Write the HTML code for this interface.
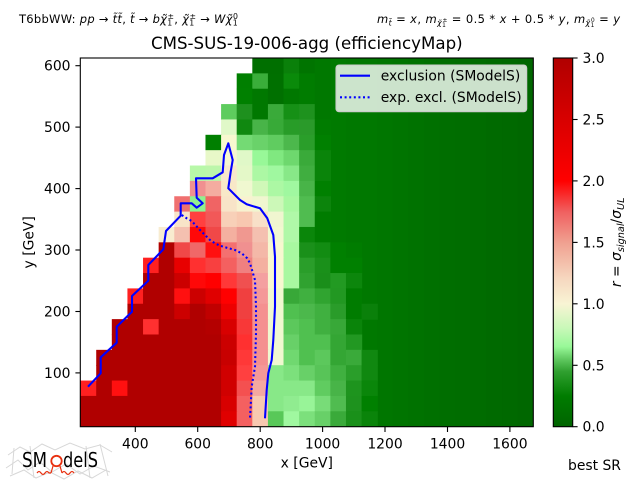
<!DOCTYPE html>
<html><head><meta charset="utf-8">
<style>
html,body{margin:0;padding:0;background:#fff;}
#c{position:relative;width:640px;height:480px;overflow:hidden;background:#fff;}
svg{position:absolute;left:0;top:0;}
text{font-family:"DejaVu Sans","Liberation Sans",sans-serif;fill:#000;}
</style></head>
<body><div id="c">
<svg width="640" height="480" viewBox="0 0 640 480" xmlns="http://www.w3.org/2000/svg">
<defs>
<clipPath id="pc"><rect x="80.3" y="58" width="453" height="368.7"/></clipPath>
<linearGradient id="cb" x1="0" y1="1" x2="0" y2="0">
<stop offset="0" stop-color="#006400"/>
<stop offset="0.083" stop-color="#007c00"/>
<stop offset="0.15" stop-color="#30a030"/>
<stop offset="0.183" stop-color="#60c860"/>
<stop offset="0.217" stop-color="#98f898"/>
<stop offset="0.267" stop-color="#c8f8b8"/>
<stop offset="0.333" stop-color="#f8f4d4"/>
<stop offset="0.40" stop-color="#f6d8c0"/>
<stop offset="0.50" stop-color="#f0a090"/>
<stop offset="0.583" stop-color="#f06060"/>
<stop offset="0.667" stop-color="#ff0000"/>
<stop offset="0.833" stop-color="#d80000"/>
<stop offset="1" stop-color="#b00000"/>
</linearGradient>
</defs>

<!-- header -->
<text x="19" y="23" font-size="11.5" textLength="219" lengthAdjust="spacing">T6bbWW: <tspan font-style="italic">pp</tspan> → <tspan font-style="italic">t̃t̃</tspan>, <tspan font-style="italic">t̃</tspan> → <tspan font-style="italic">bχ̃</tspan><tspan font-size="7.8" dy="2.5">1</tspan><tspan font-size="7.8" dx="-5" dy="-6.5">±</tspan><tspan dy="4">, </tspan><tspan font-style="italic">χ̃</tspan><tspan font-size="7.8" dy="2.5">1</tspan><tspan font-size="7.8" dx="-5" dy="-6.5">±</tspan><tspan dy="4"> → </tspan><tspan font-style="italic">Wχ̃</tspan><tspan font-size="7.8" dy="2.5">1</tspan><tspan font-size="7.8" dx="-5" dy="-6.5">0</tspan></text>

<text x="377" y="23" font-size="11.5" textLength="243" lengthAdjust="spacing"><tspan font-style="italic">m</tspan><tspan font-size="7.8" font-style="italic" dy="2.5">t̃</tspan><tspan dy="-2.5"> = </tspan><tspan font-style="italic">x</tspan>, <tspan font-style="italic">m</tspan><tspan font-size="7.8" font-style="italic" dy="2.5">χ̃</tspan><tspan font-size="5.8" dy="1.5">1</tspan><tspan font-size="5.8" dx="-3.7" dy="-5">±</tspan><tspan dy="1"> = 0.5 * </tspan><tspan font-style="italic">x</tspan> + 0.5 * <tspan font-style="italic">y</tspan>, <tspan font-style="italic">m</tspan><tspan font-size="7.8" font-style="italic" dy="2.5">χ̃</tspan><tspan font-size="5.8" dy="1.5">1</tspan><tspan font-size="5.8" dx="-3.7" dy="-5">0</tspan><tspan dy="1"> = </tspan><tspan font-style="italic">y</tspan></text>

<text x="306.8" y="49" font-size="16.67" text-anchor="middle">CMS-SUS-19-006-agg (efficiencyMap)</text>

<!-- heatmap -->
<g clip-path="url(#pc)">
<g transform="translate(80.6,58) scale(15.61,15.36)">
<rect x="16" y="0" width="1.04" height="24" fill="#007a00"/>
<rect x="17" y="0" width="1.04" height="24" fill="#007800"/>
<rect x="18" y="0" width="1.04" height="24" fill="#007800"/>
<rect x="19" y="0" width="1.04" height="24" fill="#007600"/>
<rect x="20" y="0" width="1.04" height="24" fill="#007400"/>
<rect x="21" y="0" width="1.04" height="24" fill="#007200"/>
<rect x="22" y="0" width="1.04" height="24" fill="#007000"/>
<rect x="23" y="0" width="1.04" height="24" fill="#006e00"/>
<rect x="24" y="0" width="1.04" height="24" fill="#006d00"/>
<rect x="25" y="0" width="1.04" height="24" fill="#006c00"/>
<rect x="26" y="0" width="1.04" height="24" fill="#006a00"/>
<rect x="27" y="0" width="1.04" height="24" fill="#006900"/>
<rect x="28" y="0" width="1.2" height="24" fill="#006700"/>
<!-- row 0 -->
<rect x="11" y="0" width="2.04" height="1.04" fill="#006f00"/>
<rect x="13" y="0" width="1.04" height="1.04" fill="#0a800a"/>
<rect x="14" y="0" width="1.04" height="1.04" fill="#007400"/>
<rect x="15" y="0" width="1.04" height="1.04" fill="#007800"/>
<!-- row 1 -->
<rect x="10" y="1" width="1.04" height="1.04" fill="#007f00"/>
<rect x="11" y="1" width="1.04" height="1.04" fill="#3aae3a"/>
<rect x="12" y="1" width="1.04" height="1.04" fill="#007000"/>
<rect x="13" y="1" width="1.04" height="1.04" fill="#0a8a0a"/>
<rect x="14" y="1" width="1.04" height="1.04" fill="#007c00"/>
<rect x="15" y="1" width="1.04" height="1.04" fill="#007800"/>
<!-- row 2 -->
<rect x="10" y="2" width="1.04" height="1.04" fill="#008000"/>
<rect x="11" y="2" width="1.04" height="1.04" fill="#007800"/>
<rect x="12" y="2" width="1.04" height="1.04" fill="#007000"/>
<rect x="13" y="2" width="1.04" height="1.04" fill="#007800"/>
<rect x="14" y="2" width="1.04" height="1.04" fill="#007c00"/>
<rect x="15" y="2" width="1.04" height="1.04" fill="#007800"/>
<!-- row 3 -->
<rect x="9" y="3" width="1.04" height="1.04" fill="#5ecc5e"/>
<rect x="10" y="3" width="1.04" height="1.04" fill="#1e901e"/>
<rect x="11" y="3" width="1.04" height="1.04" fill="#007800"/>
<rect x="12" y="3" width="1.04" height="1.04" fill="#3aaa3a"/>
<rect x="13" y="3" width="1.04" height="1.04" fill="#169016"/>
<rect x="14" y="3" width="1.04" height="1.04" fill="#1e921e"/>
<rect x="15" y="3" width="1.04" height="1.04" fill="#007800"/>
<!-- row 4 -->
<rect x="9" y="4" width="1.04" height="1.04" fill="#e0f8c8"/>
<rect x="10" y="4" width="1.04" height="1.04" fill="#108810"/>
<rect x="11" y="4" width="1.04" height="1.04" fill="#48b448"/>
<rect x="12" y="4" width="1.04" height="1.04" fill="#38aa38"/>
<rect x="13" y="4" width="1.04" height="1.04" fill="#289c28"/>
<rect x="14" y="4" width="1.04" height="1.04" fill="#2a9a2a"/>
<rect x="15" y="4" width="1.04" height="1.04" fill="#007c00"/>
<!-- row 5 -->
<rect x="8" y="5" width="1.04" height="1.04" fill="#007f00"/>
<rect x="9" y="5" width="1.04" height="1.04" fill="#f8f8d0"/>
<rect x="10" y="5" width="1.04" height="1.04" fill="#74da74"/>
<rect x="11" y="5" width="1.04" height="1.04" fill="#6ad26a"/>
<rect x="12" y="5" width="1.04" height="1.04" fill="#60cc60"/>
<rect x="13" y="5" width="1.04" height="1.04" fill="#4cb84c"/>
<rect x="14" y="5" width="1.04" height="1.04" fill="#2a9e2a"/>
<rect x="15" y="5" width="1.04" height="1.04" fill="#008000"/>
<!-- row 6 -->
<rect x="8" y="6" width="1.04" height="1.04" fill="#e8f8c8"/>
<rect x="9" y="6" width="1.04" height="1.04" fill="#f6f6d0"/>
<rect x="10" y="6" width="1.04" height="1.04" fill="#e0f8c8"/>
<rect x="11" y="6" width="1.04" height="1.04" fill="#98f898"/>
<rect x="12" y="6" width="1.04" height="1.04" fill="#80e880"/>
<rect x="13" y="6" width="1.04" height="1.04" fill="#6ed86e"/>
<rect x="14" y="6" width="1.04" height="1.04" fill="#3aaa3a"/>
<rect x="15" y="6" width="1.04" height="1.04" fill="#0a840a"/>
<!-- row 7 -->
<rect x="7" y="7" width="1.04" height="1.04" fill="#b8f8a8"/>
<rect x="8" y="7" width="1.04" height="1.04" fill="#bcf6aa"/>
<rect x="9" y="7" width="1.04" height="1.04" fill="#f8e8cc"/>
<rect x="10" y="7" width="1.04" height="1.04" fill="#e4f8c8"/>
<rect x="11" y="7" width="1.04" height="1.04" fill="#acf8a4"/>
<rect x="12" y="7" width="1.04" height="1.04" fill="#a0f8a0"/>
<rect x="13" y="7" width="1.04" height="1.04" fill="#88e888"/>
<rect x="14" y="7" width="1.04" height="1.04" fill="#40ae40"/>
<rect x="15" y="7" width="1.04" height="1.04" fill="#0a840a"/>
<!-- row 8 -->
<rect x="7" y="8" width="1.04" height="1.04" fill="#f09090"/>
<rect x="8" y="8" width="1.04" height="1.04" fill="#f4aca0"/>
<rect x="9" y="8" width="1.04" height="1.04" fill="#f8e8c8"/>
<rect x="10" y="8" width="1.04" height="1.04" fill="#f0f8d0"/>
<rect x="11" y="8" width="1.04" height="1.04" fill="#d0f8b8"/>
<rect x="12" y="8" width="1.04" height="1.04" fill="#acf8a4"/>
<rect x="13" y="8" width="1.04" height="1.04" fill="#a0f8a0"/>
<rect x="14" y="8" width="1.04" height="1.04" fill="#48b448"/>
<rect x="15" y="8" width="1.04" height="1.04" fill="#008000"/>
<!-- row 9 -->
<rect x="6" y="9" width="1.04" height="1.04" fill="#f07070"/>
<rect x="7" y="9" width="1.04" height="1.04" fill="#90f090"/>
<rect x="8" y="9" width="1.04" height="1.04" fill="#f06464"/>
<rect x="9" y="9" width="1.04" height="1.04" fill="#f8e4c8"/>
<rect x="10" y="9" width="1.04" height="1.04" fill="#f8f2d0"/>
<rect x="11" y="9" width="1.04" height="1.04" fill="#f0f6d0"/>
<rect x="12" y="9" width="1.04" height="1.04" fill="#ccf8b8"/>
<rect x="13" y="9" width="1.04" height="1.04" fill="#a8f8a0"/>
<rect x="14" y="9" width="1.04" height="1.04" fill="#50bc50"/>
<rect x="15" y="9" width="1.04" height="1.04" fill="#0c840c"/>
<!-- row 10 -->
<rect x="6" y="10" width="1.04" height="1.04" fill="#f8e4c8"/>
<rect x="7" y="10" width="1.04" height="1.04" fill="#ff4040"/>
<rect x="8" y="10" width="1.04" height="1.04" fill="#f25858"/>
<rect x="9" y="10" width="1.04" height="1.04" fill="#f8d0b8"/>
<rect x="10" y="10" width="1.04" height="1.04" fill="#f8c8b0"/>
<rect x="11" y="10" width="1.04" height="1.04" fill="#f8e0c8"/>
<rect x="12" y="10" width="1.04" height="1.04" fill="#f0f6d0"/>
<rect x="13" y="10" width="1.04" height="1.04" fill="#b0f8a8"/>
<rect x="14" y="10" width="1.04" height="1.04" fill="#50bc50"/>
<rect x="15" y="10" width="1.04" height="1.04" fill="#007c00"/>
<!-- row 11 -->
<rect x="5" y="11" width="1.04" height="1.04" fill="#f8ecd0"/>
<rect x="6" y="11" width="1.04" height="1.04" fill="#f4c0b0"/>
<rect x="7" y="11" width="1.04" height="1.04" fill="#ff0808"/>
<rect x="8" y="11" width="1.04" height="1.04" fill="#f04848"/>
<rect x="9" y="11" width="1.04" height="1.04" fill="#f4b0a0"/>
<rect x="10" y="11" width="1.04" height="1.04" fill="#f09890"/>
<rect x="11" y="11" width="1.04" height="1.04" fill="#f4c0b0"/>
<rect x="12" y="11" width="1.04" height="1.04" fill="#f2f8d0"/>
<rect x="13" y="11" width="1.04" height="1.04" fill="#b0f8a8"/>
<rect x="14" y="11" width="1.04" height="1.04" fill="#0a860a"/>
<rect x="15" y="11" width="1.04" height="1.04" fill="#007c00"/>
<!-- row 12 -->
<rect x="5" y="12" width="1.04" height="1.04" fill="#b00000"/>
<rect x="6" y="12" width="1.04" height="1.04" fill="#f04848"/>
<rect x="7" y="12" width="1.04" height="1.04" fill="#f06868"/>
<rect x="8" y="12" width="1.04" height="1.04" fill="#ff1010"/>
<rect x="9" y="12" width="1.04" height="1.04" fill="#f47070"/>
<rect x="10" y="12" width="1.04" height="1.04" fill="#f09090"/>
<rect x="11" y="12" width="1.04" height="1.04" fill="#f4b8a8"/>
<rect x="12" y="12" width="1.04" height="1.04" fill="#f8f8d0"/>
<rect x="13" y="12" width="1.04" height="1.04" fill="#a8f8a0"/>
<rect x="14" y="12" width="1.04" height="1.04" fill="#1a901a"/>
<rect x="15" y="12" width="1.04" height="1.04" fill="#128c12"/>
<rect x="16" y="12" width="1.04" height="1.04" fill="#008000"/>
<rect x="17" y="12" width="1.04" height="1.04" fill="#007c00"/>
<!-- row 13 -->
<rect x="4" y="13" width="1.04" height="1.04" fill="#ff2020"/>
<rect x="5" y="13" width="1.04" height="1.04" fill="#b00000"/>
<rect x="6" y="13" width="1.04" height="1.04" fill="#e80000"/>
<rect x="7" y="13" width="1.04" height="1.04" fill="#ff3030"/>
<rect x="8" y="13" width="1.04" height="1.04" fill="#f84040"/>
<rect x="9" y="13" width="1.04" height="1.04" fill="#f46060"/>
<rect x="10" y="13" width="1.04" height="1.04" fill="#f08080"/>
<rect x="11" y="13" width="1.04" height="1.04" fill="#f4b0a0"/>
<rect x="12" y="13" width="1.04" height="1.04" fill="#f8f8d0"/>
<rect x="13" y="13" width="1.04" height="1.04" fill="#a8f8a0"/>
<rect x="14" y="13" width="1.04" height="1.04" fill="#2a9e2a"/>
<rect x="15" y="13" width="1.04" height="1.04" fill="#1a901a"/>
<rect x="16" y="13" width="2.04" height="1.04" fill="#008000"/>
<!-- row 14 -->
<rect x="4" y="14" width="2.04" height="1.04" fill="#b00000"/>
<rect x="6" y="14" width="1.04" height="1.04" fill="#cc0000"/>
<rect x="7" y="14" width="1.04" height="1.04" fill="#ff0808"/>
<rect x="8" y="14" width="1.04" height="1.04" fill="#ff0000"/>
<rect x="9" y="14" width="1.04" height="1.04" fill="#ff3838"/>
<rect x="10" y="14" width="1.04" height="1.04" fill="#f05050"/>
<rect x="11" y="14" width="1.04" height="1.04" fill="#f4a0a0"/>
<rect x="12" y="14" width="1.04" height="1.04" fill="#f8f8d0"/>
<rect x="13" y="14" width="1.04" height="1.04" fill="#a8f8a0"/>
<rect x="14" y="14" width="1.04" height="1.04" fill="#30a230"/>
<rect x="15" y="14" width="1.04" height="1.04" fill="#1a8e1a"/>
<rect x="16" y="14" width="1.04" height="1.04" fill="#229a22"/>
<rect x="17" y="14" width="1.04" height="1.04" fill="#0c860c"/>
<!-- row 15 -->
<rect x="3" y="15" width="1.04" height="1.04" fill="#ff2020"/>
<rect x="4" y="15" width="2.04" height="1.04" fill="#b00000"/>
<rect x="6" y="15" width="1.04" height="1.04" fill="#ff1010"/>
<rect x="7" y="15" width="1.04" height="1.04" fill="#cc0000"/>
<rect x="8" y="15" width="1.04" height="1.04" fill="#e00000"/>
<rect x="9" y="15" width="1.04" height="1.04" fill="#ff0000"/>
<rect x="10" y="15" width="1.04" height="1.04" fill="#f04040"/>
<rect x="11" y="15" width="1.04" height="1.04" fill="#f49898"/>
<rect x="12" y="15" width="1.04" height="1.04" fill="#f0f8d0"/>
<rect x="13" y="15" width="1.04" height="1.04" fill="#38a838"/>
<rect x="14" y="15" width="1.04" height="1.04" fill="#40b040"/>
<rect x="15" y="15" width="1.04" height="1.04" fill="#30a430"/>
<rect x="16" y="15" width="1.04" height="1.04" fill="#229822"/>
<rect x="17" y="15" width="1.04" height="1.04" fill="#007c00"/>
<!-- row 16 -->
<rect x="3" y="16" width="3.04" height="1.04" fill="#b00000"/>
<rect x="6" y="16" width="1.04" height="1.04" fill="#cc0000"/>
<rect x="7" y="16" width="1.04" height="1.04" fill="#b00000"/>
<rect x="8" y="16" width="1.04" height="1.04" fill="#c00000"/>
<rect x="9" y="16" width="1.04" height="1.04" fill="#ee0000"/>
<rect x="10" y="16" width="1.04" height="1.04" fill="#f04040"/>
<rect x="11" y="16" width="1.04" height="1.04" fill="#f49090"/>
<rect x="12" y="16" width="1.04" height="1.04" fill="#f0f8d0"/>
<rect x="13" y="16" width="1.04" height="1.04" fill="#50c050"/>
<rect x="14" y="16" width="1.04" height="1.04" fill="#4cb84c"/>
<rect x="15" y="16" width="1.04" height="1.04" fill="#40b040"/>
<rect x="16" y="16" width="1.04" height="1.04" fill="#2a9c2a"/>
<rect x="17" y="16" width="1.04" height="1.04" fill="#007c00"/>
<rect x="18" y="16" width="1.04" height="1.04" fill="#0a800a"/>
<!-- row 17 -->
<rect x="2" y="17" width="2.04" height="1.04" fill="#b00000"/>
<rect x="4" y="17" width="1.04" height="1.04" fill="#ff3030"/>
<rect x="5" y="17" width="3.04" height="1.04" fill="#b00000"/>
<rect x="8" y="17" width="1.04" height="1.04" fill="#b40000"/>
<rect x="9" y="17" width="1.04" height="1.04" fill="#d80000"/>
<rect x="10" y="17" width="1.04" height="1.04" fill="#f83838"/>
<rect x="11" y="17" width="1.04" height="1.04" fill="#f49090"/>
<rect x="12" y="17" width="1.04" height="1.04" fill="#f0f8d0"/>
<rect x="13" y="17" width="1.04" height="1.04" fill="#5cc85c"/>
<rect x="14" y="17" width="1.04" height="1.04" fill="#50c050"/>
<rect x="15" y="17" width="1.04" height="1.04" fill="#40b040"/>
<rect x="16" y="17" width="1.04" height="1.04" fill="#38a838"/>
<rect x="17" y="17" width="1.04" height="1.04" fill="#0a840a"/>
<!-- row 18 -->
<rect x="2" y="18" width="7.04" height="1.04" fill="#b00000"/>
<rect x="9" y="18" width="1.04" height="1.04" fill="#cc0000"/>
<rect x="10" y="18" width="1.04" height="1.04" fill="#ff3030"/>
<rect x="11" y="18" width="1.04" height="1.04" fill="#f49090"/>
<rect x="12" y="18" width="1.04" height="1.04" fill="#f0f8d0"/>
<rect x="13" y="18" width="1.04" height="1.04" fill="#68d068"/>
<rect x="14" y="18" width="2.04" height="1.04" fill="#50c050"/>
<rect x="16" y="18" width="1.04" height="1.04" fill="#34a634"/>
<rect x="17" y="18" width="1.04" height="1.04" fill="#229822"/>
<!-- row 19 -->
<rect x="1" y="19" width="8.04" height="1.04" fill="#b00000"/>
<rect x="9" y="19" width="1.04" height="1.04" fill="#c80000"/>
<rect x="10" y="19" width="1.04" height="1.04" fill="#ff3838"/>
<rect x="11" y="19" width="1.04" height="1.04" fill="#f49090"/>
<rect x="12" y="19" width="1.04" height="1.04" fill="#f0f8d0"/>
<rect x="13" y="19" width="1.04" height="1.04" fill="#70d870"/>
<rect x="14" y="19" width="1.04" height="1.04" fill="#50c050"/>
<rect x="15" y="19" width="1.04" height="1.04" fill="#5cc85c"/>
<rect x="16" y="19" width="1.04" height="1.04" fill="#34a634"/>
<rect x="17" y="19" width="1.04" height="1.04" fill="#3aaa3a"/>
<rect x="18" y="19" width="1.04" height="1.04" fill="#108810"/>
<!-- row 20 -->
<rect x="1" y="20" width="8.04" height="1.04" fill="#b00000"/>
<rect x="9" y="20" width="1.04" height="1.04" fill="#d00000"/>
<rect x="10" y="20" width="1.04" height="1.04" fill="#ff4040"/>
<rect x="11" y="20" width="1.04" height="1.04" fill="#f49898"/>
<rect x="12" y="20" width="1.04" height="1.04" fill="#88e888"/>
<rect x="13" y="20" width="1.04" height="1.04" fill="#7ce07c"/>
<rect x="14" y="20" width="1.04" height="1.04" fill="#68d068"/>
<rect x="15" y="20" width="1.04" height="1.04" fill="#58c458"/>
<rect x="16" y="20" width="1.04" height="1.04" fill="#40b040"/>
<rect x="17" y="20" width="1.04" height="1.04" fill="#2a9e2a"/>
<rect x="18" y="20" width="1.04" height="1.04" fill="#108810"/>
<!-- row 21 -->
<rect x="-0.2" y="21" width="1.24" height="1.04" fill="#ff2020"/>
<rect x="1" y="21" width="1.04" height="1.04" fill="#b00000"/>
<rect x="2" y="21" width="1.04" height="1.04" fill="#ff1010"/>
<rect x="3" y="21" width="6.04" height="1.04" fill="#b00000"/>
<rect x="9" y="21" width="1.04" height="1.04" fill="#d00000"/>
<rect x="10" y="21" width="1.04" height="1.04" fill="#f45050"/>
<rect x="11" y="21" width="1.04" height="1.04" fill="#f4a8a0"/>
<rect x="12" y="21" width="3.04" height="1.04" fill="#88e888"/>
<rect x="15" y="21" width="1.04" height="1.04" fill="#60cc60"/>
<rect x="16" y="21" width="1.04" height="1.04" fill="#48b448"/>
<rect x="17" y="21" width="1.04" height="1.04" fill="#1e941e"/>
<rect x="18" y="21" width="1.04" height="1.04" fill="#0a860a"/>
<!-- row 22 -->
<rect x="-0.2" y="22" width="9.24" height="1.04" fill="#b00000"/>
<rect x="9" y="22" width="1.04" height="1.04" fill="#d80000"/>
<rect x="10" y="22" width="1.04" height="1.04" fill="#f46060"/>
<rect x="11" y="22" width="1.04" height="1.04" fill="#f8c8b0"/>
<rect x="12" y="22" width="1.04" height="1.04" fill="#88e888"/>
<rect x="13" y="22" width="1.04" height="1.04" fill="#90ec90"/>
<rect x="14" y="22" width="1.04" height="1.04" fill="#98f498"/>
<rect x="15" y="22" width="1.04" height="1.04" fill="#78dc78"/>
<rect x="16" y="22" width="1.04" height="1.04" fill="#50bc50"/>
<rect x="17" y="22" width="1.04" height="1.04" fill="#1e921e"/>
<rect x="18" y="22" width="1.04" height="1.04" fill="#008000"/>
<!-- row 23 -->
<rect x="-0.2" y="23" width="9.24" height="1.2" fill="#b00000"/>
<rect x="9" y="23" width="1.04" height="1.2" fill="#e00000"/>
<rect x="10" y="23" width="1.04" height="1.2" fill="#f46060"/>
<rect x="11" y="23" width="1.04" height="1.2" fill="#f8c8b0"/>
<rect x="12" y="23" width="1.04" height="1.2" fill="#58c858"/>
<rect x="13" y="23" width="1.04" height="1.2" fill="#a0f8a0"/>
<rect x="14" y="23" width="1.04" height="1.2" fill="#7ce07c"/>
<rect x="15" y="23" width="1.04" height="1.2" fill="#68d068"/>
<rect x="16" y="23" width="1.04" height="1.2" fill="#3aaa3a"/>
<rect x="17" y="23" width="1.04" height="1.2" fill="#1a901a"/>
<rect x="18" y="23" width="1.04" height="1.2" fill="#0a840a"/>
</g>

<!-- exclusion lines -->
<polyline fill="none" stroke="#0000ff" stroke-width="2.08" stroke-linejoin="round" points="88,386.7 100.7,373.3 100.7,357.3 116.7,342.7 116.7,326.7 132,311.7 132,296 148.3,280.7 148.3,265 163.3,249.3 166,231 180.7,215.7 180.7,203.3 191.7,203.3 196.7,207.7 202.7,203.3 196.7,197.7 196,178.3 212.7,178.3 222.7,172.3 224,155 228.3,143.3 232.7,160 230.7,171.7 228.3,188.3 240,200 246.7,204.3 260,208.3 267.3,218.3 273.3,235 275,256.7 275,306.7 273.3,340 271.7,360 268.3,373.3 266.7,390 265,418.3"/>
<polyline fill="none" stroke="#0000ff" stroke-width="2.08" stroke-dasharray="2 2.6" points="181.7,215 186.7,218.3 191.7,221 196,225.7 200,230 205,235 210,240 215,243.3 220,245.7 226.7,247.7 235,250 241.7,253.3 247.3,258.3 250,263.3 255,280 256,306.7 256,333.3 255,366.7 251.7,386.7 250,418.3"/>
</g>

<!-- frame -->
<rect x="80.3" y="58" width="453" height="368.7" fill="none" stroke="#000" stroke-width="1.1"/>

<!-- legend -->
<rect x="336" y="65" width="190.7" height="46.7" rx="3" ry="3" fill="#ffffff" fill-opacity="0.8" stroke="#cccccc" stroke-width="1.1"/>
<line x1="340" y1="75.7" x2="370" y2="75.7" stroke="#0000ff" stroke-width="2.08"/>
<line x1="340" y1="97.3" x2="370" y2="97.3" stroke="#0000ff" stroke-width="2.08" stroke-dasharray="2 2.6"/>
<text x="380.7" y="80.6" font-size="13.9">exclusion (SModelS)</text>
<text x="380.7" y="102.2" font-size="13.9">exp. excl. (SModelS)</text>

<!-- ticks -->
<g stroke="#000" stroke-width="1.1">
<line x1="135.3" y1="427" x2="135.3" y2="432"/>
<line x1="197.7" y1="427" x2="197.7" y2="432"/>
<line x1="260.2" y1="427" x2="260.2" y2="432"/>
<line x1="322.6" y1="427" x2="322.6" y2="432"/>
<line x1="385" y1="427" x2="385" y2="432"/>
<line x1="447.5" y1="427" x2="447.5" y2="432"/>
<line x1="509.9" y1="427" x2="509.9" y2="432"/>
<line x1="75.4" y1="65.7" x2="80.3" y2="65.7"/>
<line x1="75.4" y1="127.1" x2="80.3" y2="127.1"/>
<line x1="75.4" y1="188.6" x2="80.3" y2="188.6"/>
<line x1="75.4" y1="250" x2="80.3" y2="250"/>
<line x1="75.4" y1="311.5" x2="80.3" y2="311.5"/>
<line x1="75.4" y1="372.9" x2="80.3" y2="372.9"/>
</g>
<g font-size="13.9" text-anchor="middle">
<text x="135.3" y="448.5">400</text>
<text x="197.7" y="448.5">600</text>
<text x="260.2" y="448.5">800</text>
<text x="322.6" y="448.5">1000</text>
<text x="385" y="448.5">1200</text>
<text x="447.5" y="448.5">1400</text>
<text x="509.9" y="448.5">1600</text>
</g>
<g font-size="13.9" text-anchor="end">
<text x="70.5" y="70.7">600</text>
<text x="70.5" y="132.1">500</text>
<text x="70.5" y="193.6">400</text>
<text x="70.5" y="255">300</text>
<text x="70.5" y="316.5">200</text>
<text x="70.5" y="377.9">100</text>
</g>
<text x="306.8" y="467.5" font-size="13.9" text-anchor="middle">x [GeV]</text>
<text transform="translate(33.5,242.3) rotate(-90)" font-size="13.9" text-anchor="middle">y [GeV]</text>
<text x="568" y="470" font-size="13.9">best SR</text>

<!-- colorbar -->
<rect x="553.3" y="58" width="19.4" height="368.7" fill="url(#cb)" stroke="#000" stroke-width="1.1"/>
<g stroke="#000" stroke-width="1.1">
<line x1="572.7" y1="426.7" x2="577.6" y2="426.7"/>
<line x1="572.7" y1="365.3" x2="577.6" y2="365.3"/>
<line x1="572.7" y1="303.8" x2="577.6" y2="303.8"/>
<line x1="572.7" y1="242.4" x2="577.6" y2="242.4"/>
<line x1="572.7" y1="180.9" x2="577.6" y2="180.9"/>
<line x1="572.7" y1="119.5" x2="577.6" y2="119.5"/>
<line x1="572.7" y1="58" x2="577.6" y2="58"/>
</g>
<g font-size="13.9">
<text x="582.5" y="431.7">0.0</text>
<text x="582.5" y="370.3">0.5</text>
<text x="582.5" y="308.8">1.0</text>
<text x="582.5" y="247.4">1.5</text>
<text x="582.5" y="185.9">2.0</text>
<text x="582.5" y="124.5">2.5</text>
<text x="582.5" y="63">3.0</text>
</g>
<text transform="translate(621,242.3) rotate(-90)" font-size="13.9" text-anchor="middle"><tspan font-style="italic">r</tspan> = <tspan font-style="italic">σ</tspan><tspan font-size="9.7" font-style="italic" dy="3">signal</tspan><tspan dy="-3">/</tspan><tspan font-style="italic">σ</tspan><tspan font-size="9.7" font-style="italic" dy="3">UL</tspan></text>

<!-- logo -->
<g opacity="0.55" stroke="#b8b8b8" stroke-width="1" fill="none">
<path d="M8,455 L20,447 L30,452 L42,444 L55,450 L70,443 L85,449 L100,445 L112,452"/>
<path d="M6,468 L18,460 L28,470 L40,462 L52,472 L66,464 L80,474 L94,466 L110,472"/>
<path d="M10,476 L24,470 L36,478 L50,472 L64,479 L78,471 L92,478 L106,470"/>
<path d="M14,448 L12,474 M100,444 L108,476 M30,446 L34,478 M86,446 L90,478"/>
</g>
<text x="22" y="467" font-size="20" fill="#606060" textLength="25" lengthAdjust="spacingAndGlyphs">SM</text>
<circle cx="56.5" cy="461" r="5.2" fill="none" stroke="#e83010" stroke-width="1.8"/>
<text x="63" y="467" font-size="20" fill="#606060" textLength="35" lengthAdjust="spacingAndGlyphs">delS</text>
<path d="M37,473 q2,-3 4,0 q2,3 4,0 q2,-3 4,0 L51,473 M62,473 q2,-3 4,0 q2,3 4,0 q2,-3 4,0" fill="none" stroke="#e83010" stroke-width="1.2"/>
<line x1="51" y1="473" x2="53" y2="466" stroke="#e83010" stroke-width="1.2"/>
<line x1="60" y1="466" x2="62" y2="473" stroke="#e83010" stroke-width="1.2"/>
</svg>
</div></body></html>
